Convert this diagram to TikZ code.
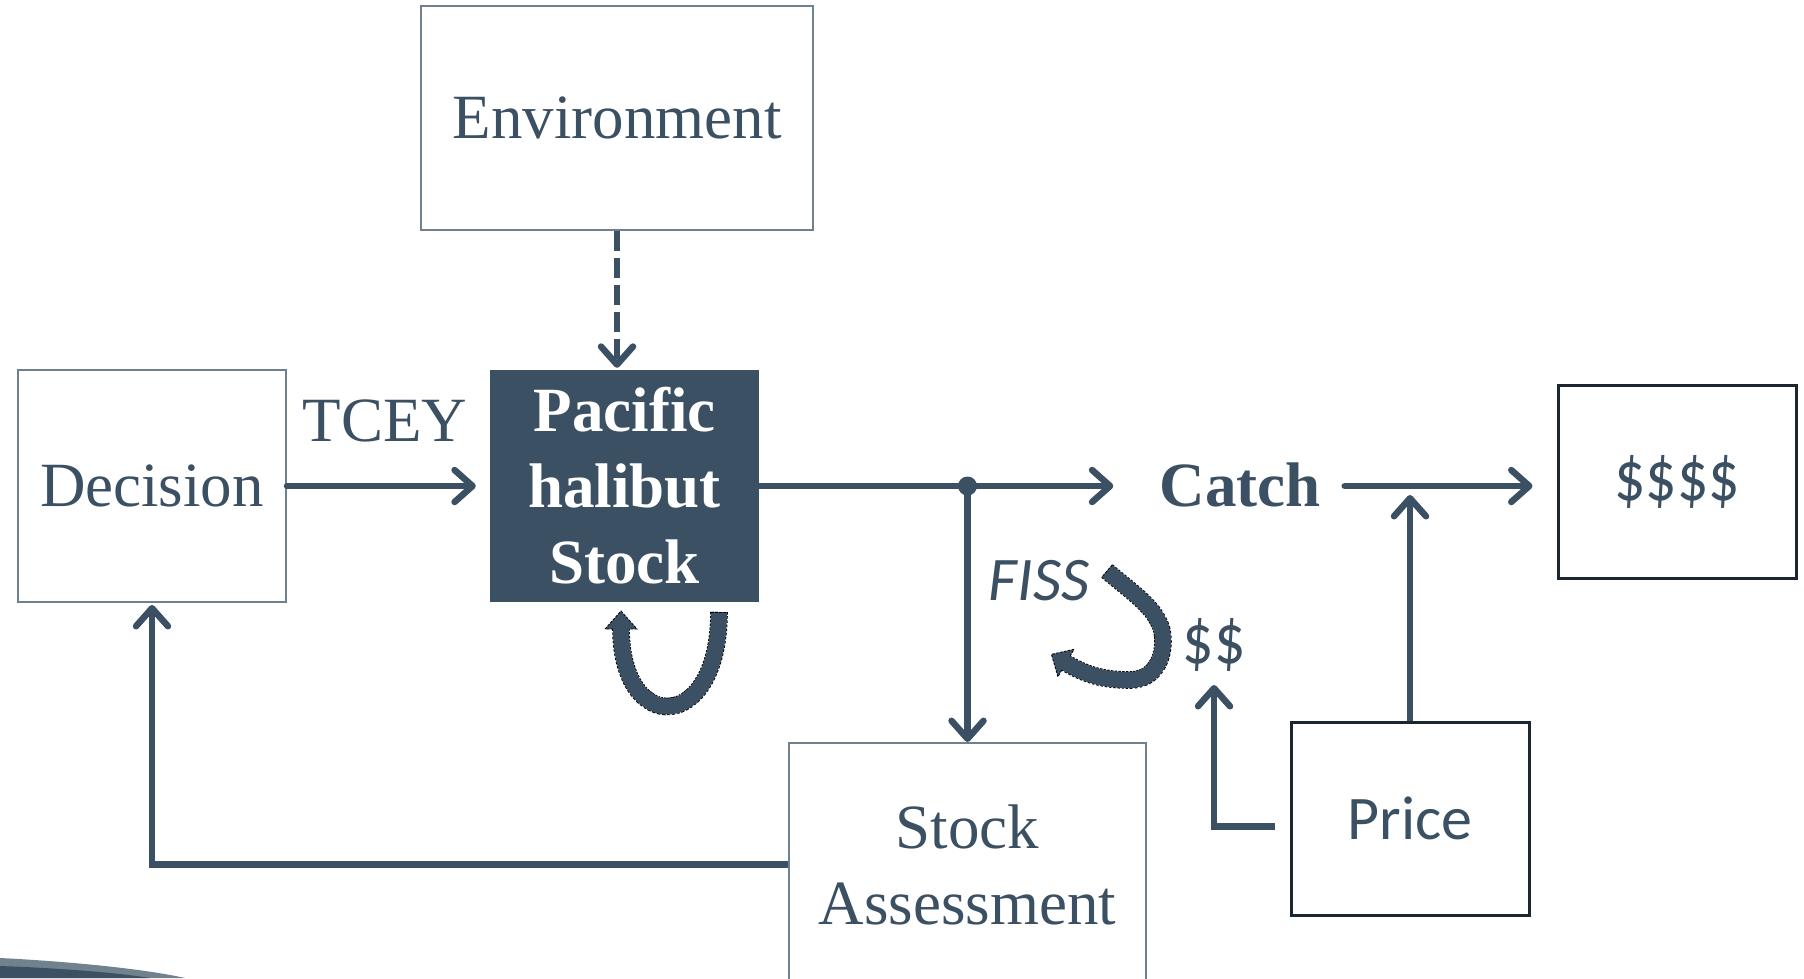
\documentclass[tikz,border=0pt]{standalone}
\usepackage{graphicx}
\usepackage{fontspec}
\setmainfont{Liberation Serif}
\newfontfamily\carl{Carlito}
\usetikzlibrary{arrows.meta,calc}
\definecolor{ink}{HTML}{3B5062}
\definecolor{rim}{HTML}{6F808E}
\definecolor{darkrim}{HTML}{1C2630}
\definecolor{swoosh}{HTML}{71828F}
% taller dollar signs
\newcommand{\tallbucks}[1]{\scalebox{1}[1.15]{#1}}

\begin{document}
\begin{tikzpicture}[x=1pt,y=-1pt,
  big/.style={font=\fontsize{63}{76}\selectfont, text=ink},
  plainbox/.style={draw=rim, line width=2pt, inner sep=0pt, align=center, big},
  darkbox/.style={draw=darkrim, line width=3pt, inner sep=0pt, align=center, big},
  flow/.style={draw=ink, line width=6.5pt, line cap=round,
    -{Straight Barb[length=18pt,width=32pt,round]}},
  dashflow/.style={flow, line cap=butt, dash pattern=on 20pt off 7pt},
  bandunder/.style={draw=black, line width=17.6pt, dash pattern=on 2.5pt off 1.5pt},
  band/.style={draw=ink, line width=16pt},
  bandedge/.style={draw=black, line width=0.8pt, dash pattern=on 2.5pt off 1.5pt},
]
\useasboundingbox (0,0) rectangle (1804,978);

% boxes
\node[plainbox, minimum width=392pt, minimum height=224pt] (env) at (617,118) {Environment};
\node[plainbox, minimum width=268pt, minimum height=232pt] (dec) at (152,486) {Decision};
\node[fill=ink, inner sep=0pt, minimum width=269pt, minimum height=232pt, align=center,
      font=\fontsize{63}{76}\selectfont\bfseries, text=white] (stock) at (624.5,486) {Pacific\\halibut\\Stock};
\node[plainbox, minimum width=357pt, minimum height=243pt] (sa) at (967.5,864.5) {Stock\\Assessment};
\node[darkbox, minimum width=238pt, minimum height=193pt, font=\carl\fontsize{62}{74}\selectfont] (money) at (1677,481.5) {\tallbucks{\$\$\$\$}};
\node[darkbox, minimum width=238pt, minimum height=193pt, font=\carl\fontsize{62}{74}\selectfont] (price) at (1410,818.5) {Price};

% labels
\node[big, anchor=base, inner sep=0pt] (tcey) at (385,441) {TCEY};
\node[big, anchor=base, inner sep=0pt, font=\fontsize{63}{76}\selectfont\bfseries] (catch) at (1240,506) {Catch};
\node[text=ink, inner sep=0pt, font=\carl\itshape\fontsize{62}{74}\selectfont] (fiss) at (1039,581) {FISS};
\node[text=ink, inner sep=0pt, font=\carl\fontsize{62}{74}\selectfont] (dd) at (1214,645) {\tallbucks{\$\$}};

% junction on the catch line
\coordinate (split) at (sa.north |- stock.east);
\coordinate (pricetip) at ($(price.north |- stock.east)+(0,9)$);
\coordinate (ddtip) at ($(dd.center)+(0,40)$);

% connectors
\draw[flow, shorten >=14pt] (dec.east) -- (stock.west);
\draw[flow, line cap=butt] (stock.east) -- ($(catch.west |- stock.east)+(-46,0)$);
\fill[ink] (split) circle[radius=9.5pt];
\draw[flow, line cap=butt] (split) -- (sa.north);
\draw[flow] ($(catch.east |- stock.east)+(24,0)$) -- ($(money.west |- stock.east)+(-24,0)$);
\draw[flow, line cap=butt] (price.north) -- (pricetip);
\draw[flow, line cap=butt] ($(price.west)+(-15,8)$) -| (ddtip);
\draw[flow, line cap=butt, shorten >=2pt] (sa.west) -| (dec.south);
\draw[dashflow, shorten >=2pt] (env.south) -- (env.south |- stock.north);

% self-renewal arrow under the stock
\path[bandunder] (719,612) .. controls (719,735) and (621,735) .. (621,629);
\path[band] (719,612) .. controls (719,735) and (621,735) .. (621,629);
\fill[ink] (605,629) -- (621,611) -- (637,629) -- cycle;
\draw[bandedge] (613,629) -- (605,629) -- (621,611) -- (637,629) -- (629,629);
\draw[bandedge] (711,612) -- (727,612);

% FISS turning arrow
\path[bandunder] (1107,571) .. controls (1135,595) and (1163,612) .. (1163,640)
  .. controls (1163,665) and (1150,680) .. (1130,680)
  .. controls (1105,680) and (1088,676) .. (1066,663);
\path[band] (1107,571) .. controls (1135,595) and (1163,612) .. (1163,640)
  .. controls (1163,665) and (1150,680) .. (1130,680)
  .. controls (1105,680) and (1088,676) .. (1066,663);
\fill[ink] (1074.1,649.2) -- (1051.4,654.3) -- (1057.9,676.8) -- cycle;
\draw[bandedge] (1070.1,656.1) -- (1074.1,649.2) -- (1051.4,654.3) -- (1057.9,676.8) -- (1061.9,669.9);
\draw[bandedge] (1112.2,564.9) -- (1101.8,577.1);

% corner swoosh
\fill[swoosh] (0,958) .. controls (80,962) and (150,970) .. (185,978) -- (0,978) -- cycle;
\fill[ink] (0,966) .. controls (60,968) and (120,973) .. (150,978) -- (0,978) -- cycle;
\end{tikzpicture}
\end{document}
